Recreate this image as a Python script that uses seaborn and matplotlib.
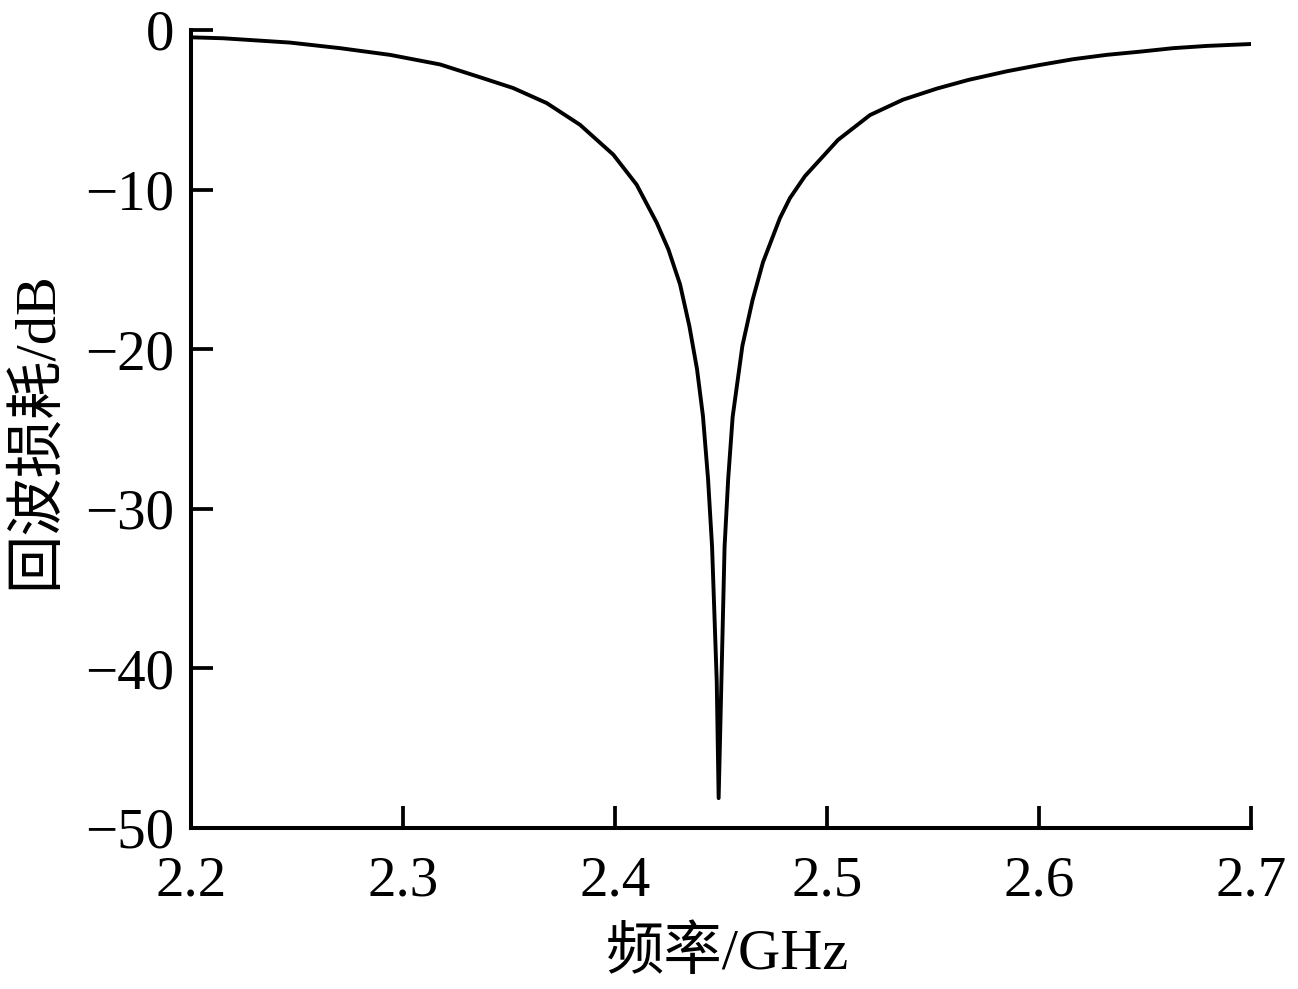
import numpy as np
import pandas as pd
import matplotlib
matplotlib.use("Agg")
import matplotlib.pyplot as plt
import seaborn as sns

# return loss curve (GHz, dB)
freq_ghz = [
    2.2000, 2.2151, 2.2467, 2.2703, 2.2939, 2.3175, 2.3363, 2.3520, 2.3678,
    2.3835, 2.3992, 2.4102, 2.4197, 2.4252, 2.4307, 2.4351, 2.4387, 2.4415,
    2.4439, 2.4458, 2.4480, 2.4489,
    2.4502, 2.4517, 2.4534, 2.4555, 2.4601, 2.4649, 2.4698, 2.4778, 2.4825,
    2.4896, 2.5052, 2.5203, 2.5358, 2.5519, 2.5667, 2.5848, 2.6005, 2.6162,
    2.6319, 2.6476, 2.6633, 2.6791, 2.7000,
]
return_loss_db = [
    -0.46, -0.52, -0.79, -1.14, -1.56, -2.16, -2.96, -3.64, -4.58,
    -5.94, -7.81, -9.69, -12.08, -13.75, -15.94, -18.56, -21.25, -24.19,
    -28.13, -32.38, -40.81, -48.13,
    -40.81, -32.38, -28.13, -24.25, -19.79, -16.92, -14.56, -11.79, -10.54,
    -9.16, -6.89, -5.33, -4.37, -3.67, -3.13, -2.59, -2.19, -1.83,
    -1.56, -1.36, -1.14, -1.00, -0.88,
]

x_ticks = [2.2, 2.3, 2.4, 2.5, 2.6, 2.7]
y_ticks = [0, -10, -20, -30, -40, -50]

df = pd.DataFrame({"freq": freq_ghz, "rl": return_loss_db})

sns.set_style("ticks")
plt.rcParams["font.family"] = ["Liberation Serif", "Noto Sans CJK SC"]
plt.rcParams["axes.unicode_minus"] = True
plt.rcParams["text.color"] = "black"
plt.rcParams["axes.labelcolor"] = "black"

fig = plt.figure(figsize=(12.98, 9.89), dpi=100)
ax = fig.add_axes([0.1471, 0.1628, 0.8167, 0.8069])

sns.lineplot(data=df, x="freq", y="rl", ax=ax, color="black",
             linewidth=2.8, estimator=None, sort=False)

ax.set_xlim(2.2, 2.7)
ax.set_ylim(-50, 0)
ax.set_xticks(x_ticks)
ax.set_yticks(y_ticks)
ax.set_xticklabels([f"{t:.1f}" for t in x_ticks])
ax.set_yticklabels([f"{t}".replace("-", "\u2212") for t in y_ticks])

for side in ["top", "right"]:
    ax.spines[side].set_visible(False)
for side in ["left", "bottom"]:
    ax.spines[side].set_linewidth(2.9)
    ax.spines[side].set_color("black")

ax.tick_params(axis="both", direction="in", length=16, width=2.7,
               colors="black", labelsize=41)
ax.tick_params(axis="x", pad=20)
ax.tick_params(axis="y", pad=12)

ax.set_xlabel("频率/GHz", fontsize=42, color="black")
ax.set_ylabel("回波损耗/dB", fontsize=42, color="black")
ax.xaxis.set_label_coords(0.5066, -0.158)
ax.xaxis.label.set_va("center")
ax.yaxis.set_label_coords(-0.147, 0.499)
ax.yaxis.label.set_va("center")

fig.savefig("out.png", dpi=100)
